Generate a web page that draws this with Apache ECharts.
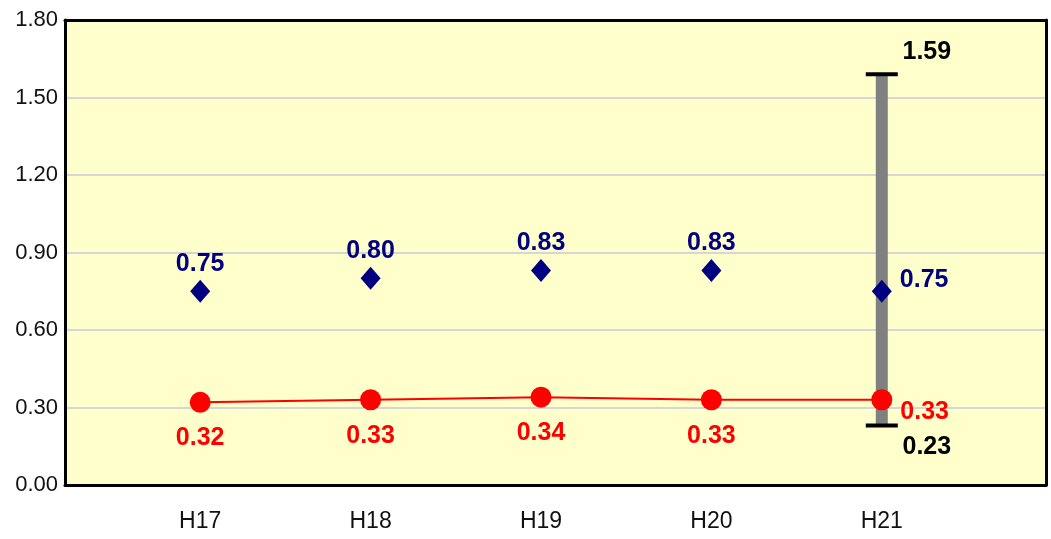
<!DOCTYPE html>
<html><head><meta charset="utf-8">
<script src="https://cdn.jsdelivr.net/npm/echarts@6/dist/echarts.min.js"></script>
<style>html,body{margin:0;padding:0;background:#fff}#c{width:1051px;height:539px}</style>
</head><body><div id="c"></div>
<script>
var categories = ['H17', 'H18', 'H19', 'H20', 'H21'];
var redValues = [0.32, 0.33, 0.34, 0.33, 0.33];
var blueValues = [0.75, 0.80, 0.83, 0.83, 0.75];
var errCategory = 'H21';
var errLow = 0.23;
var errHigh = 1.59;
var yTicks = [0, 0.3, 0.6, 0.9, 1.2, 1.5, 1.8];

var lblFont = '"Liberation Sans", Arial, sans-serif';
var lastIdx = categories.length - 1;

var redData = redValues.map(function (v, i) {
  var d = { value: v };
  if (i === lastIdx) d.label = { position: 'right', distance: 8, offset: [0, 12] };
  return d;
});
var blueData = blueValues.map(function (v, i) {
  var d = { value: v };
  if (i === lastIdx) d.label = { position: 'right', distance: 8, offset: [0, -11] };
  return d;
});
var errData = [[categories.indexOf(errCategory), errLow, errHigh]];

var chart = echarts.init(document.getElementById('c'), null, { renderer: 'canvas' });
chart.setOption({
  animation: false,
  backgroundColor: '#ffffff',
  grid: [
    { left: 65, right: 5, top: 20, bottom: 54, show: true, backgroundColor: '#ffffcc', borderColor: '#000000', borderWidth: 0, z: 0 },
    { left: 115, right: 84, top: 20, bottom: 54, show: false }
  ],
  xAxis: [
    { gridIndex: 0, type: 'value', min: 0, max: 1, position: 'bottom',
      axisLine: { show: true, onZero: false, lineStyle: { color: '#000', width: 3 } },
      axisTick: { show: false }, axisLabel: { show: false }, splitLine: { show: false } },
    { gridIndex: 0, type: 'value', min: 0, max: 1, position: 'top',
      axisLine: { show: true, onZero: false, lineStyle: { color: '#000', width: 3 } },
      axisTick: { show: false }, axisLabel: { show: false }, splitLine: { show: false } },
    { gridIndex: 1, type: 'category', data: categories, boundaryGap: true,
      axisLine: { show: false }, axisTick: { show: false },
      axisLabel: { color: '#111', fontSize: 23, fontFamily: '"Liberation Sans", Arial, sans-serif', margin: 25 } }
  ],
  yAxis: [
    { gridIndex: 0, type: 'value', min: yTicks[0], max: yTicks[yTicks.length - 1], interval: 0.3, position: 'left',
      axisLine: { show: true, onZero: false, lineStyle: { color: '#000', width: 3 } }, axisTick: { show: false },
      axisLabel: { color: '#111', fontSize: 22, fontFamily: '"Liberation Sans", Arial, sans-serif', margin: 7,
        formatter: function (v) { return v.toFixed(2); } },
      splitLine: { show: true, showMinLine: false, showMaxLine: false, lineStyle: { color: '#d6d6d6', width: 2 } } },
    { gridIndex: 0, type: 'value', min: yTicks[0], max: yTicks[yTicks.length - 1], position: 'right',
      axisLine: { show: true, onZero: false, lineStyle: { color: '#000', width: 3 } }, axisTick: { show: false },
      axisLabel: { show: false }, splitLine: { show: false } },
    { gridIndex: 1, type: 'value', min: yTicks[0], max: yTicks[yTicks.length - 1], show: false, splitLine: { show: false } }
  ],
  series: [
    {
      type: 'custom', xAxisIndex: 2, yAxisIndex: 2, z: 2,
      data: errData,
      renderItem: function (params, api) {
        var x = api.value(0);
        var top = api.coord([x, api.value(2)]);
        var bot = api.coord([x, api.value(1)]);
        var cx = top[0];
        var f = 'bold 25px ' + lblFont;
        return {
          type: 'group',
          children: [
            { type: 'rect', shape: { x: cx - 6, y: top[1], width: 12, height: bot[1] - top[1] }, style: { fill: '#808080' } },
            { type: 'line', shape: { x1: cx - 16, y1: top[1], x2: cx + 16, y2: top[1] }, style: { stroke: '#000', lineWidth: 4 } },
            { type: 'line', shape: { x1: cx - 16, y1: bot[1], x2: cx + 16, y2: bot[1] }, style: { stroke: '#000', lineWidth: 4 } },
            { type: 'text', style: { text: api.value(2).toFixed(2), x: cx + 45, y: top[1] - 22, fill: '#000', font: f, align: 'center', verticalAlign: 'middle' } },
            { type: 'text', style: { text: api.value(1).toFixed(2), x: cx + 45, y: bot[1] + 22, fill: '#000', font: f, align: 'center', verticalAlign: 'middle' } }
          ]
        };
      }
    },
    {
      type: 'line', xAxisIndex: 2, yAxisIndex: 2, z: 3,
      data: redData,
      symbol: 'circle', symbolSize: 21,
      itemStyle: { color: '#ff0000', opacity: 1 },
      lineStyle: { color: '#ff0000', width: 2 },
      label: { show: true, position: 'bottom', distance: 13, color: '#ff0000', fontSize: 25, fontWeight: 'bold', fontFamily: lblFont,
        formatter: function (p) { return p.value.toFixed(2); } }
    },
    {
      type: 'scatter', xAxisIndex: 2, yAxisIndex: 2, z: 4,
      data: blueData,
      symbol: 'diamond', symbolSize: [20, 23],
      itemStyle: { color: '#000080', opacity: 1 },
      label: { show: true, position: 'top', distance: 3, color: '#000080', fontSize: 25, fontWeight: 'bold', fontFamily: lblFont,
        formatter: function (p) { return p.value.toFixed(2); } }
    }
  ]
});
</script>
</body></html>
